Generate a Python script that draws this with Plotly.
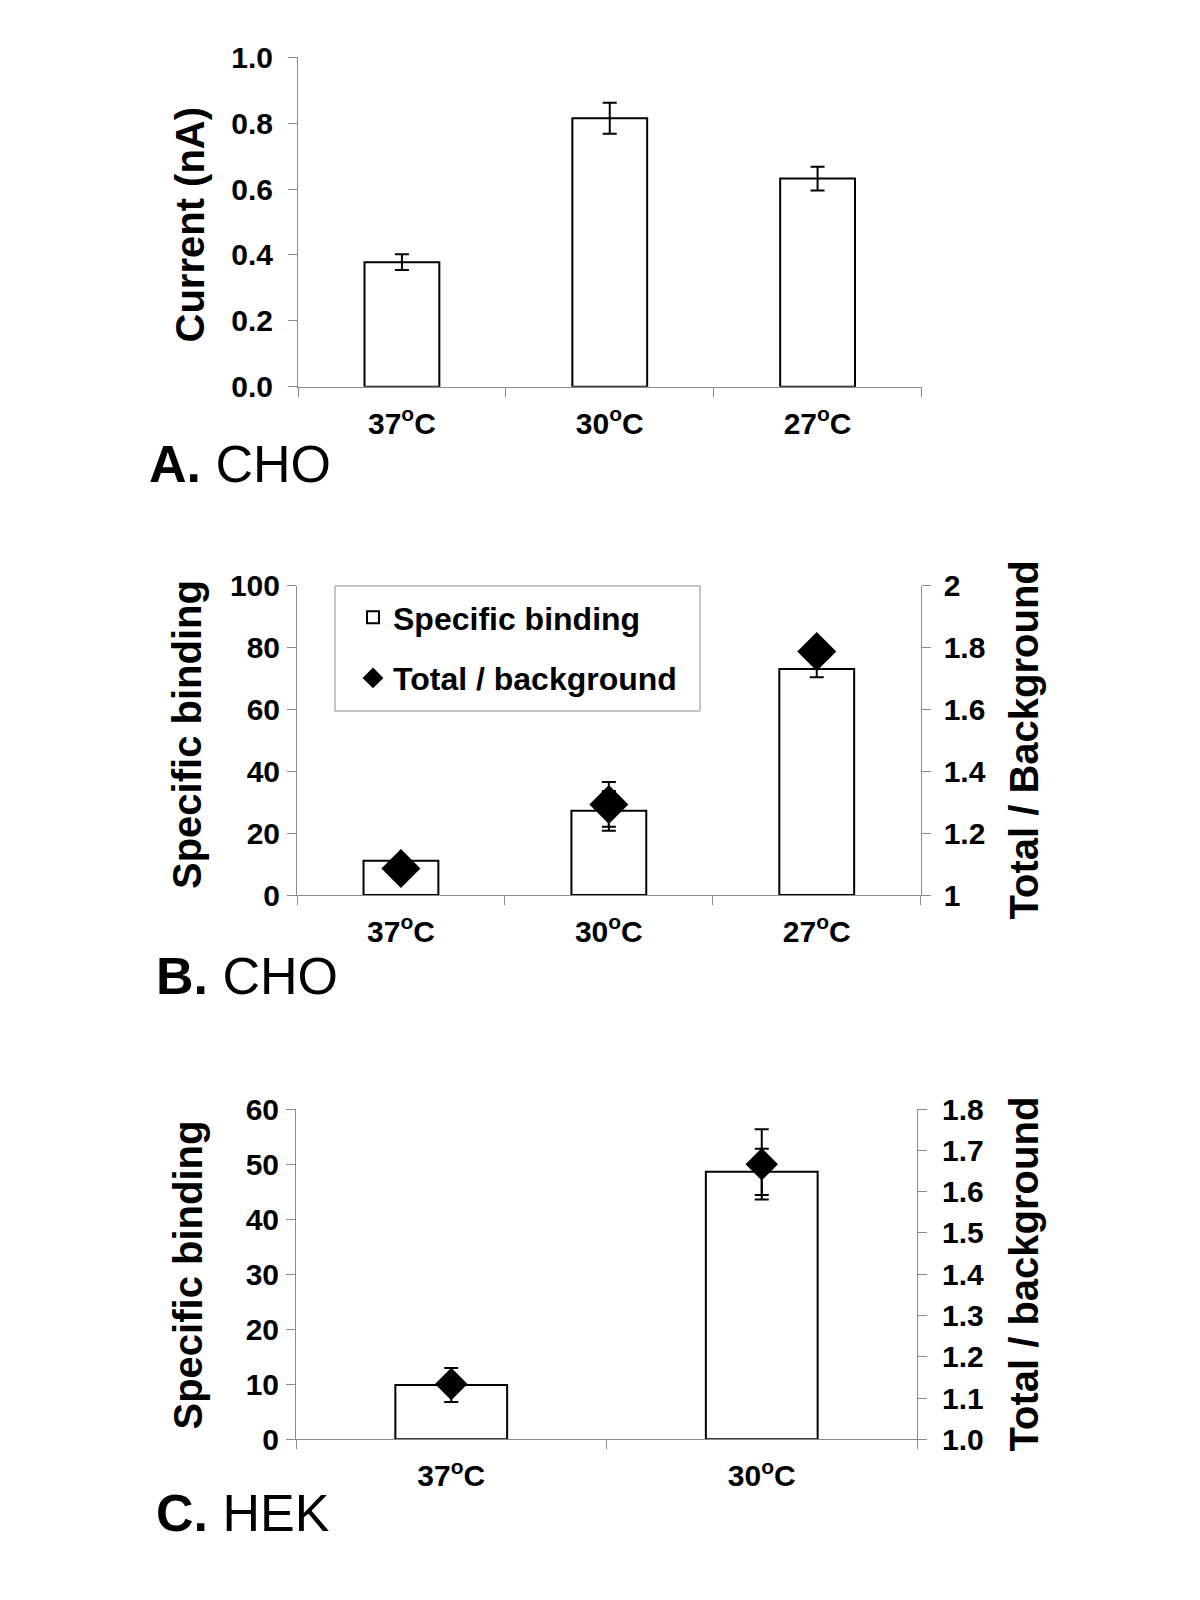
import plotly.graph_objects as go

# ---------------- data ----------------
cats_cho = ["37<sup>o</sup>C", "30<sup>o</sup>C", "27<sup>o</sup>C"]
cats_hek = ["37<sup>o</sup>C", "30<sup>o</sup>C"]

current_nA = [0.378, 0.815, 0.632]
current_err = [0.024, 0.047, 0.036]

cho_specific = [11.1, 27.2, 73.1]
cho_specific_err = [1.0, 6.4, 2.7]
cho_ratio = [1.086, 1.293, 1.787]
cho_ratio_err = [0.02, 0.072, 0.02]

hek_specific = [9.86, 48.6]
hek_specific_err = [3.1, 4.2]
hek_ratio = [1.134, 1.666]
hek_ratio_err = [0.02, 0.085]

# ---------------- geometry helpers ----------------
W, H = 1184, 1584
OFF = 8  # default body margin


def px(X):
    return (X - OFF) / W


def py(Y):
    return 1 - (Y - OFF) / H


FONT = "Liberation Sans"
AXC = "#8a8a8a"
tickfont = dict(family=FONT, size=30, color="black", weight="bold")

fig = go.Figure()

bar_style = dict(marker=dict(color="white", line=dict(color="black", width=2)))
err_bar = dict(type="data", visible=True, color="black", thickness=2, width=7)

# Panel A
fig.add_trace(go.Bar(x=cats_cho, y=current_nA, xaxis="x", yaxis="y",
                     error_y=dict(array=current_err, **err_bar),
                     showlegend=False, **bar_style))

# Panel B
fig.add_trace(go.Bar(x=cats_cho, y=cho_specific, xaxis="x2", yaxis="y2",
                     name="Specific binding", legendgroup="a",
                     error_y=dict(array=cho_specific_err, **err_bar),
                     showlegend=True, **bar_style))
fig.add_trace(go.Scatter(x=cats_cho, y=cho_ratio, xaxis="x2", yaxis="y3",
                         mode="markers", name="Total / background", legendgroup="b",
                         marker=dict(symbol="diamond", size=30, color="black"),
                         error_y=dict(array=cho_ratio_err, **err_bar),
                         showlegend=True))

# Panel C
fig.add_trace(go.Bar(x=cats_hek, y=hek_specific, xaxis="x3", yaxis="y4",
                     error_y=dict(array=hek_specific_err, **err_bar),
                     showlegend=False, **bar_style))
fig.add_trace(go.Scatter(x=cats_hek, y=hek_ratio, xaxis="x3", yaxis="y5",
                         mode="markers",
                         marker=dict(symbol="diamond", size=25, color="black"),
                         error_y=dict(array=hek_ratio_err, **err_bar),
                         showlegend=False))

xcommon = dict(type="category", showline=True, linecolor=AXC, linewidth=1,
               ticks="outside", ticklen=9, tickcolor=AXC, tickson="boundaries",
               showgrid=False, zeroline=False, tickfont=tickfont,
               ticklabelstandoff=10)
ybase = dict(showline=True, linecolor=AXC, linewidth=1, ticks="outside",
             ticklen=9, tickcolor=AXC, showgrid=False, zeroline=False,
             tickfont=tickfont)
yinner = dict(showline=False, ticks="inside", ticklen=8, tickcolor=AXC,
              showgrid=False, zeroline=False, showticklabels=False)

# domains
dA_x = [px(298), px(921.5)]
dA_y = [py(386.7), py(57.3)]
dB_x = [px(297), px(920.7)]
dB_y = [py(895), py(585.7)]
dC_x = [px(296), px(917)]
dC_y = [py(1439.3), py(1109)]

fig.update_layout(
    width=W, height=H,
    margin=dict(l=0, r=0, t=0, b=0, autoexpand=False),
    paper_bgcolor="white", plot_bgcolor="white",
    font=dict(family=FONT, color="black"),
    bargap=0.64,
    xaxis=dict(domain=dA_x, anchor="y", **xcommon),
    yaxis=dict(domain=dA_y, anchor="x", range=[0, 1], dtick=0.2,
               tickformat=".1f", ticklabelstandoff=9, **ybase),
    xaxis2=dict(domain=dB_x, anchor="y2", **xcommon),
    yaxis2=dict(domain=dB_y, anchor="x2", range=[0, 100], dtick=20,
                ticklabelstandoff=1, **ybase),
    yaxis3=dict(overlaying="y2", anchor="x2", side="right", range=[1, 2],
                dtick=0.2, ticklabelstandoff=7, **ybase),
    xaxis3=dict(domain=dC_x, anchor="y4", **xcommon),
    yaxis4=dict(domain=dC_y, anchor="x3", range=[0, 60], dtick=10,
                ticklabelstandoff=1, **ybase),
    yaxis5=dict(overlaying="y4", anchor="x3", side="right", range=[1, 1.8],
                dtick=0.1, tickformat=".1f", ticklabelstandoff=9, **ybase),
    # inner halves of the crossing tick marks
    yaxis6=dict(overlaying="y2", anchor="x2", side="left", range=[0, 100],
                dtick=20, **yinner),
    yaxis7=dict(overlaying="y2", anchor="x2", side="right", range=[1, 2],
                dtick=0.2, **yinner),
    yaxis8=dict(overlaying="y4", anchor="x3", side="left", range=[0, 60],
                dtick=10, **yinner),
    yaxis9=dict(overlaying="y4", anchor="x3", side="right", range=[1, 1.8],
                dtick=0.1, **yinner),
    legend=dict(x=px(353), y=py(590), xanchor="left", yanchor="top",
                bgcolor="rgba(0,0,0,0)", borderwidth=0,
                font=dict(family=FONT, size=32, color="black", weight="bold"),
                traceorder="grouped", tracegroupgap=16),
    showlegend=True,
)

# legend frame
fig.add_shape(type="rect", xref="paper", yref="paper",
              x0=px(335), x1=px(700), y0=py(711), y1=py(586),
              line=dict(color=AXC, width=1), fillcolor="rgba(0,0,0,0)")

title_font = dict(family=FONT, size=40, color="black", weight="bold")
annots = [
    ("Current (nA)", 189, 224.5),
    ("Specific binding", 187, 735),
    ("Total / Background", 1023.5, 740),
    ("Specific binding", 187, 1275.5),
    ("Total / background", 1023.5, 1274),
]
for txt, X, Y in annots:
    fig.add_annotation(text=txt, x=px(X), y=py(Y), xref="paper", yref="paper",
                       textangle=-90, showarrow=False, font=title_font,
                       xanchor="center", yanchor="middle")

panel_font = dict(family=FONT, size=52, color="black")
for txt, X, Y in [("<b>A.</b> CHO", 147, 464), ("<b>B.</b> CHO", 154, 976.5),
                  ("<b>C.</b> HEK", 154, 1513)]:
    fig.add_annotation(text=txt, x=px(X), y=py(Y), xref="paper", yref="paper",
                       showarrow=False, font=panel_font,
                       xanchor="left", yanchor="middle")

fig.write_html("out.html")
